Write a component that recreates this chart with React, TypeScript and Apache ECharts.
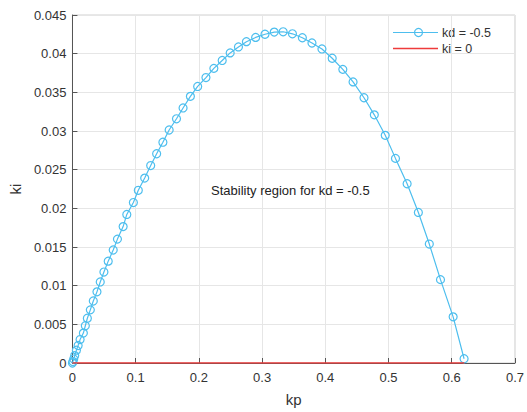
import React, { useEffect, useRef } from "react";
import * as echarts from "echarts";

const kpValues = [
  0, 0.0008, 0.002, 0.0036, 0.0063, 0.009, 0.0121, 0.0173, 0.0204, 0.0236,
  0.0283, 0.033, 0.0388, 0.044, 0.0498, 0.0566, 0.0645, 0.0712, 0.0802, 0.086,
  0.0964, 0.1042, 0.1143, 0.1238, 0.1332, 0.1431, 0.153, 0.1646, 0.175, 0.1866,
  0.1981, 0.2112, 0.2237, 0.2369, 0.2495, 0.2626, 0.2752, 0.2898, 0.3046, 0.3192,
  0.3333, 0.348, 0.3637, 0.3789, 0.3947, 0.4109, 0.4277, 0.4439, 0.4612, 0.4775,
  0.4948, 0.511, 0.5294, 0.5472, 0.5645, 0.5822, 0.6022, 0.6195,
];
const kiValues = [
  0, 0.00019, 0.00051, 0.00096, 0.00166, 0.00226, 0.00303, 0.00387, 0.00482, 0.00579,
  0.00687, 0.00802, 0.0092, 0.01048, 0.01176, 0.01317, 0.01461, 0.01602, 0.01764, 0.01921,
  0.02075, 0.02233, 0.02391, 0.02553, 0.02706, 0.02855, 0.03013, 0.03158, 0.03298, 0.03448,
  0.03576, 0.03691, 0.0381, 0.03912, 0.0401, 0.04087, 0.04155, 0.0421, 0.04251, 0.04279,
  0.04283, 0.04257, 0.04206, 0.04138, 0.04061, 0.03941, 0.03797, 0.03635, 0.0343, 0.03209,
  0.02944, 0.02646, 0.02318, 0.01947, 0.01538, 0.01078, 0.00597, 0.00055,
];
const zeroLineKp = [0, 0.62];
const zeroLineKi = [0, 0];
const seriesNames = ["kd = -0.5", "ki = 0"];
const annotation = "Stability region for kd = -0.5";

const FONT = "'Liberation Sans', Arial, Helvetica, sans-serif";
const TEXT = "#333333";
const BLUE = "#4DBEEE";
const RED = "#EE3B3B";

export default function App() {
  const ref = useRef<HTMLDivElement>(null);
  useEffect(() => {
    if (!ref.current) return;
    const chart = echarts.init(ref.current, undefined, { renderer: "svg" });
    const curve = kpValues.map((x, i) => [x, kiValues[i]]);
    const zero = zeroLineKp.map((x, i) => [x, zeroLineKi[i]]);
    chart.setOption({
      animation: false,
      backgroundColor: "#ffffff",
      textStyle: { fontFamily: FONT },
      grid: {
        left: 72,
        right: 10,
        top: 15,
        bottom: 45,
        show: true,
        borderColor: "#d0d0d0",
        borderWidth: 1,
        backgroundColor: "transparent",
      },
      xAxis: {
        type: "value",
        min: 0,
        max: 0.7,
        interval: 0.1,
        name: "kp",
        nameLocation: "middle",
        nameGap: 29,
        nameTextStyle: { fontSize: 15, color: TEXT, fontFamily: FONT },
        axisLine: { show: true, onZero: false, lineStyle: { color: "#555555", width: 1 } },
        axisTick: { show: true, inside: true, length: 5, lineStyle: { color: "#555555" } },
        axisLabel: {
          fontSize: 13,
          color: TEXT,
          margin: 8,
          fontFamily: FONT,
          formatter: (v: number) => String(parseFloat(v.toFixed(2))),
        },
        splitLine: { show: true, lineStyle: { color: "#e6e6e6", width: 1 } },
      },
      yAxis: {
        type: "value",
        min: 0,
        max: 0.045,
        interval: 0.005,
        name: "ki",
        nameLocation: "middle",
        nameGap: 48,
        nameTextStyle: { fontSize: 15, color: TEXT, fontFamily: FONT },
        axisLine: { show: true, onZero: false, lineStyle: { color: "#555555", width: 1 } },
        axisTick: { show: true, inside: true, length: 5, lineStyle: { color: "#555555" } },
        axisLabel: {
          fontSize: 13,
          color: TEXT,
          margin: 6,
          fontFamily: FONT,
          formatter: (v: number) => String(parseFloat(v.toFixed(3))),
        },
        splitLine: { show: true, lineStyle: { color: "#e6e6e6", width: 1 } },
      },
      graphic: [
        {
          type: "text",
          left: 211,
          top: 184,
          z: 10,
          style: { text: annotation, font: `13px ${FONT}`, fill: "#222222" },
        },
        {
          type: "group",
          z: 10,
          children: [
            {
              type: "rect",
              shape: { x: 388, y: 20, width: 124, height: 38 },
              style: { fill: "#ffffff" },
            },
            {
              type: "line",
              shape: { x1: 393, y1: 32.5, x2: 438, y2: 32.5 },
              style: { stroke: BLUE, lineWidth: 1.2 },
            },
            {
              type: "circle",
              shape: { cx: 418.5, cy: 32.5, r: 4 },
              style: { stroke: BLUE, lineWidth: 1.2, fill: "none" },
            },
            {
              type: "text",
              x: 442,
              y: 32.5,
              style: {
                text: seriesNames[0],
                font: `12.5px ${FONT}`,
                fill: TEXT,
                verticalAlign: "middle",
              },
            },
            {
              type: "line",
              shape: { x1: 393, y1: 48.5, x2: 438, y2: 48.5 },
              style: { stroke: RED, lineWidth: 1.5 },
            },
            {
              type: "text",
              x: 442,
              y: 48.5,
              style: {
                text: seriesNames[1],
                font: `12.5px ${FONT}`,
                fill: TEXT,
                verticalAlign: "middle",
              },
            },
          ],
        },
      ],
      series: [
        {
          name: seriesNames[0],
          type: "line",
          data: curve,
          symbol: "circle",
          symbolSize: 8,
          showSymbol: true,
          lineStyle: { color: BLUE, width: 1.2 },
          itemStyle: { color: "rgba(255,255,255,0)", borderColor: BLUE, borderWidth: 1.2 },
          z: 2,
        },
        {
          name: seriesNames[1],
          type: "line",
          data: zero,
          symbol: "none",
          lineStyle: { color: RED, width: 1.5 },
          itemStyle: { color: RED },
          z: 3,
        },
      ],
    });
    return () => chart.dispose();
  }, []);
  return (
    <div
      ref={ref}
      style={{ position: "fixed", left: 0, top: 0, width: 527, height: 412 }}
    />
  );
}
